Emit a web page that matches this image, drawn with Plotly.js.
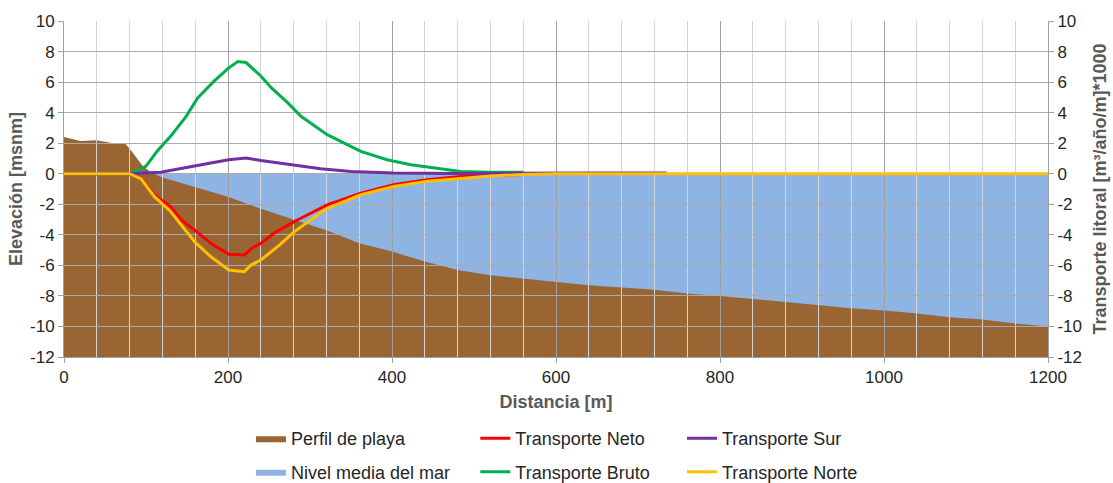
<!DOCTYPE html>
<html>
<head>
<meta charset="utf-8">
<script src="https://cdn.plot.ly/plotly-3.0.1.min.js"></script>
<style>html,body{margin:0;padding:0;background:#fff;}#chart{width:1113px;height:483px;}</style>
</head>
<body>
<div id="chart"></div>
<script>
// ---- Data ----
const distancia = [0, 20, 40, 60, 75, 82, 96, 106, 120, 160, 200, 240, 280, 320, 360, 400, 440, 480, 520, 560, 600, 640, 680, 720, 760, 800, 840, 880, 920, 960, 1000, 1040, 1080, 1120, 1160, 1200];
const perfilPlaya = [2.4, 2.15, 2.2, 2.0, 1.95, 1.5, 0.5, 0.1, -0.25, -0.85, -1.5, -2.3, -3.0, -3.7, -4.55, -5.1, -5.75, -6.3, -6.65, -6.85, -7.1, -7.3, -7.45, -7.6, -7.85, -8.0, -8.2, -8.4, -8.6, -8.8, -8.95, -9.15, -9.4, -9.55, -9.8, -10];

const nivelX = [0, 1200];
const nivelMar = [0, 0];
const fondoX = [0, 1200];
const fondo = [-12, -12];

const netoX = [0, 80, 94, 110, 130, 143, 159, 179, 201, 220, 230, 240, 256, 281, 321, 362, 402, 443, 484, 520, 560];
const transporteNeto = [0, 0, -0.29, -1.38, -2.15, -3.02, -3.68, -4.56, -5.28, -5.32, -4.84, -4.56, -3.9, -3.13, -2.04, -1.27, -0.72, -0.39, -0.18, -0.1, -0.05];

const brutoX = [0, 80, 90, 100, 114, 130, 149, 163, 183, 201, 212, 222, 240, 253, 273, 289, 321, 362, 394, 423, 484, 520, 560];
const transporteBruto = [0, 0, 0.2, 0.5, 1.5, 2.45, 3.76, 4.96, 6.06, 6.93, 7.35, 7.28, 6.4, 5.62, 4.64, 3.76, 2.56, 1.46, 0.92, 0.59, 0.15, 0.1, 0.1];

const surX = [0, 80, 118, 159, 179, 201, 222, 240, 281, 313, 350, 402, 480, 560, 640, 735];
const transporteSur = [0, 0, 0.1, 0.48, 0.7, 0.92, 1.03, 0.87, 0.59, 0.33, 0.15, 0.04, 0.02, 0.05, 0.05, 0.05];

const norteX = [0, 80, 94, 110, 130, 143, 159, 179, 201, 220, 228, 240, 263, 281, 321, 362, 402, 443, 484, 520, 560, 600, 1200];
const transporteNorte = [0, 0, -0.33, -1.49, -2.47, -3.35, -4.44, -5.43, -6.3, -6.41, -5.98, -5.65, -4.66, -3.79, -2.26, -1.38, -0.83, -0.5, -0.29, -0.15, -0.05, 0, 0];

const yTicks = [-12, -10, -8, -6, -4, -2, 0, 2, 4, 6, 8, 10];
const yTickLabels = ['-12', '-10', '-8', '-6', '-4', '-2', '0', '2', '4', '6', '8', '10'];
const xTicks = [0, 200, 400, 600, 800, 1000, 1200];
const xTickLabels = ['0', '200', '400', '600', '800', '1000', '1200'];

// ---- Styles ----
const FONT = 'Liberation Sans, Arial, sans-serif';
const BROWN = '#996633', BLUE = '#8eb4e3';
const lineW = 3;

const traces = [
  {x: fondoX, y: fondo, xaxis: 'x', yaxis: 'y', mode: 'lines', line: {width: 0}, showlegend: false, hoverinfo: 'skip'},
  {x: nivelX, y: nivelMar, xaxis: 'x', yaxis: 'y', name: 'Nivel media del mar', mode: 'lines', line: {width: 0, color: BLUE},
   fill: 'tonexty', fillcolor: BLUE, legend: 'legend', legendgroup: 'g2', legendrank: 2},
  {x: fondoX, y: fondo, xaxis: 'x', yaxis: 'y', mode: 'lines', line: {width: 0}, showlegend: false, hoverinfo: 'skip'},
  {x: distancia, y: perfilPlaya, xaxis: 'x', yaxis: 'y', name: 'Perfil de playa', mode: 'lines', line: {width: 0, color: BROWN},
   fill: 'tonexty', fillcolor: BROWN, legend: 'legend', legendgroup: 'g1', legendrank: 1},
  {x: netoX, y: transporteNeto, xaxis: 'x2', yaxis: 'y2', name: 'Transporte Neto', mode: 'lines', line: {width: lineW, color: '#ff0000'},
   legend: 'legend2', legendgroup: 'g3', legendrank: 1},
  {x: brutoX, y: transporteBruto, xaxis: 'x2', yaxis: 'y2', name: 'Transporte Bruto', mode: 'lines', line: {width: lineW, color: '#00b050'},
   legend: 'legend2', legendgroup: 'g4', legendrank: 2},
  {x: surX, y: transporteSur, xaxis: 'x2', yaxis: 'y3', name: 'Transporte Sur', mode: 'lines', line: {width: lineW, color: '#7030a0'},
   legend: 'legend3', legendgroup: 'g5', legendrank: 1},
  {x: norteX, y: transporteNorte, xaxis: 'x2', yaxis: 'y3', name: 'Transporte Norte', mode: 'lines', line: {width: lineW, color: '#ffc000'},
   legend: 'legend3', legendgroup: 'g6', legendrank: 2}
];

const tickFont = {family: FONT, size: 17, color: '#262626'};
const titleFont = {family: FONT, size: 18, color: '#595959', weight: 'bold'};
const legFont = {family: FONT, size: 18, color: '#262626'};
const legBase = {orientation: 'v', yanchor: 'top', xanchor: 'left', y: -0.188,
  bgcolor: 'rgba(0,0,0,0)', font: legFont, tracegroupgap: 7, traceorder: 'grouped', itemclick: false};

const layout = {
  width: 1113, height: 483,
  margin: {l: 64, r: 65, t: 21, b: 126, autoexpand: false},
  paper_bgcolor: '#ffffff',
  plot_bgcolor: 'rgba(0,0,0,0)',
  font: {family: FONT},
  xaxis: {range: [0, 1200], visible: false, fixedrange: true},
  yaxis: {range: [-12, 10], visible: false, fixedrange: true},
  xaxis2: {range: [0, 1200], anchor: 'y2', tickvals: xTicks, ticktext: xTickLabels, showgrid: true, gridcolor: '#a0a0a0', gridwidth: 1,
    minor: {dtick: 40, tick0: 0, showgrid: true, gridcolor: '#d4d4d4', gridwidth: 1, ticks: ''},
    zeroline: false, showline: true, linecolor: '#a0a0a0', ticks: 'outside', ticklen: 5, tickcolor: '#a0a0a0',
    tickfont: tickFont, automargin: false,
    title: {text: 'Distancia [m]', font: titleFont, standoff: 8}},
  yaxis2: {range: [-12, 10], anchor: 'x2', tickvals: yTicks, ticktext: yTickLabels, showgrid: true, gridcolor: '#aaaaaa', gridwidth: 1,
    zeroline: false, showline: true, linecolor: '#a0a0a0', ticks: 'outside', ticklen: 5, tickcolor: '#a0a0a0',
    tickfont: tickFont, automargin: false,
    title: {text: 'Elevación [msnm]', font: titleFont, standoff: 2}},
  yaxis3: {range: [-12, 10], overlaying: 'y2', side: 'right', anchor: 'x2', tickvals: yTicks, ticktext: yTickLabels, showgrid: false,
    zeroline: false, showline: true, linecolor: '#a0a0a0', ticks: 'outside', ticklen: 5, tickcolor: '#a0a0a0',
    tickfont: tickFont, automargin: false,
    title: {text: 'Transporte litoral [m³/año/m]*1000', font: titleFont, standoff: 12}},
  legend: Object.assign({}, legBase, {x: 0.190}),
  legend2: Object.assign({}, legBase, {x: 0.418}),
  legend3: Object.assign({}, legBase, {x: 0.628}),
  showlegend: true
};

Plotly.newPlot('chart', traces, layout, {staticPlot: true, displayModeBar: false});
</script>
</body>
</html>
